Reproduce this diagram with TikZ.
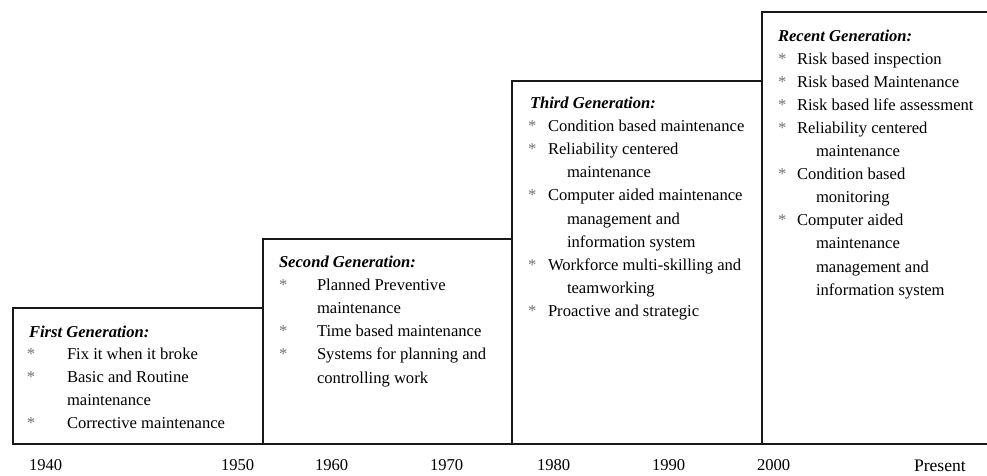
\documentclass[tikz,border=0pt]{standalone}
\usepackage{fontspec}
\setmainfont{Liberation Serif}

% bullet of a list row: asterisk in a fixed-width box
\newcommand\gbul[2]{\makebox[#1][l]{\hspace*{#2}\textcolor{black!55}{*}}}
% heading of a generation
\newcommand\gtitle[1]{\textbf{\textit{#1}}}

\begin{document}
\begin{tikzpicture}[x=1pt,y=-1pt,
  genbox/.style={draw=black!90, line width=1.8pt, rectangle, inner sep=0pt,
    outer sep=0pt, anchor=north west},
  gentext/.style={anchor=base west, inner sep=0pt, outer sep=0pt},
  yeartext/.style={anchor=base west, inner sep=0pt, outer sep=0pt,
    font=\fontsize{16.6}{20}\selectfont}]
\useasboundingbox (0,0) rectangle (987,475);
\fill[white] (0,0) rectangle (987,475);

% staircase of generation boxes
\begin{scope}
  \clip (0,0) rectangle (987,475);
  \node[genbox, minimum width=250.3pt, minimum height=136pt] (b1) at (12.7,308) {};
  \node[genbox, minimum width=249pt, minimum height=205pt] (b2) at (263,239) {};
  \node[genbox, minimum width=250pt, minimum height=363pt] (b3) at (512,81) {};
  \node[genbox, minimum width=240pt, minimum height=432pt] (b4) at (762,12) {};
\end{scope}

% first generation
\node[gentext] (t1) at (29,337) {\fontsize{16.6}{22.8}\selectfont
\begin{tabular}[t]{@{}l@{}l@{}}
\multicolumn{2}{@{}l@{}}{\gtitle{First Generation:}}\\
\gbul{38pt}{-2pt} & Fix it when it broke\\
\gbul{38pt}{-2pt} & Basic and Routine\\
 & maintenance\\
\gbul{38pt}{-2pt} & Corrective maintenance
\end{tabular}};

% second generation
\node[gentext] (t2) at (279,267) {\fontsize{16.6}{23.2}\selectfont
\begin{tabular}[t]{@{}l@{}l@{}}
\multicolumn{2}{@{}l@{}}{\gtitle{Second Generation:}}\\
\gbul{38pt}{0pt} & Planned Preventive\\
 & maintenance\\
\gbul{38pt}{0pt} & Time based maintenance\\
\gbul{38pt}{0pt} & Systems for planning and\\
 & controlling work
\end{tabular}};

% third generation
\node[gentext] (t3) at (530,108) {\fontsize{16.6}{23.2}\selectfont
\begin{tabular}[t]{@{}l@{}l@{}}
\multicolumn{2}{@{}l@{}}{\gtitle{Third Generation:}}\\
\gbul{18pt}{-2pt} & Condition based maintenance\\
\gbul{18pt}{-2pt} & Reliability centered\\
 & \hspace*{19pt}maintenance\\
\gbul{18pt}{-2pt} & Computer aided maintenance\\
 & \hspace*{19pt}management and\\
 & \hspace*{19pt}information system\\
\gbul{18pt}{-2pt} & Workforce multi-skilling and\\
 & \hspace*{19pt}teamworking\\
\gbul{18pt}{-2pt} & Proactive and strategic
\end{tabular}};

% recent generation
\node[gentext] (t4) at (778,41) {\fontsize{16.6}{23.1}\selectfont
\begin{tabular}[t]{@{}l@{}l@{}}
\multicolumn{2}{@{}l@{}}{\gtitle{Recent Generation:}}\\
\gbul{19pt}{0pt} & Risk based inspection\\
\gbul{19pt}{0pt} & Risk based Maintenance\\
\gbul{19pt}{0pt} & Risk based life assessment\\
\gbul{19pt}{0pt} & Reliability centered\\
 & \hspace*{19pt}maintenance\\
\gbul{19pt}{0pt} & Condition based\\
 & \hspace*{19pt}monitoring\\
\gbul{19pt}{0pt} & Computer aided\\
 & \hspace*{19pt}maintenance\\
 & \hspace*{19pt}management and\\
 & \hspace*{19pt}information system
\end{tabular}};

% time axis labels
\foreach \yr/\xx [count=\i] in {1940/29,1950/221,1960/315,1970/430,1980/537,1990/652,2000/757}
  \node[yeartext] (y\i) at (\xx,470) {\yr};
\node[yeartext, font=\fontsize{17.6}{20}\selectfont] (ypresent) at (914,471) {Present};
\end{tikzpicture}
\end{document}
